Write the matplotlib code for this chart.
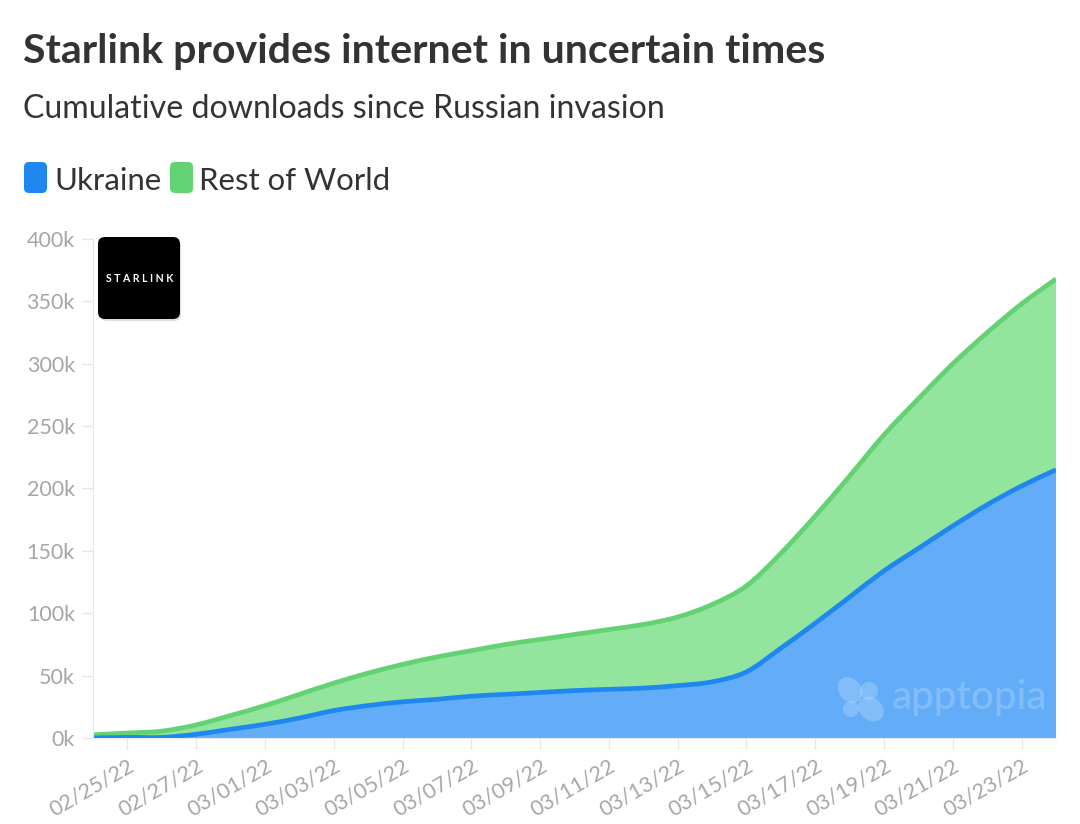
import pandas as pd
import numpy as np
import matplotlib
matplotlib.use("Agg")
import matplotlib.pyplot as plt
import matplotlib.dates as mdates
from matplotlib.patches import FancyBboxPatch, Circle, PathPatch, Ellipse
from matplotlib.path import Path

plt.rcParams['font.family'] = ['Lato', 'DejaVu Sans']

dates = pd.date_range("2022-02-24", "2022-03-24", freq="D")
ukraine = [0, 0.5, 0.5, 3, 7, 11, 16, 22, 26, 29, 31, 33.5, 35, 36.5, 38, 39, 40, 42, 45, 53,
           72, 92, 113, 134, 152, 170, 187, 202, 215]
rest_of_world = [2.5, 3.5, 5, 7.5, 11, 15, 19, 22, 26, 30, 34, 36.5, 40, 42.5, 45, 48, 51, 55, 62, 69,
                 76, 86, 97, 109, 120, 130, 138, 146, 153]
y_ticks = [0, 50, 100, 150, 200, 250, 300, 350, 400]
y_labels = ['0k', '50k', '100k', '150k', '200k', '250k', '300k', '350k', '400k']
x_ticks = pd.date_range("2022-02-25", "2022-03-23", freq="2D")

W, H = 1080, 824
BLUE, GREEN = '#1f88f0', '#62d273'
BLUE_FILL, GREEN_FILL = '#63adf8', '#93e49c'
GREY = '#a6a6a6'
DARK = '#333333'


def curve_segments(x, y):
    # bezier control points so the line runs through each daily value smoothly
    x, y = np.asarray(x, float), np.asarray(y, float)
    slope = np.gradient(y, x)
    h = (x[1] - x[0]) / 3
    verts, codes = [], []
    for i in range(len(x) - 1):
        verts += [(x[i] + h, y[i] + slope[i] * h), (x[i + 1] - h, y[i + 1] - slope[i + 1] * h),
                  (x[i + 1], y[i + 1])]
        codes += [Path.CURVE4] * 3
    return verts, codes


def line_path(x, y):
    verts, codes = curve_segments(x, y)
    return Path([(x[0], y[0])] + verts, [Path.MOVETO] + codes)


def band_path(x, low, high):
    top_v, top_c = curve_segments(x, high)
    low_v, low_c = curve_segments(x[::-1], low[::-1])
    verts = [(x[0], high[0])] + top_v + [(x[-1], low[-1])] + low_v + [(x[0], high[0])]
    codes = [Path.MOVETO] + top_c + [Path.LINETO] + low_c + [Path.CLOSEPOLY]
    return Path(verts, codes)


fig = plt.figure(figsize=(W / 100, H / 100), dpi=100, facecolor='white')
ax = fig.add_axes([93 / W, 1 - 738 / H, (1056 - 93) / W, (738 - 239) / H])

xs = mdates.date2num(dates)
base = np.zeros(len(xs))
low = np.array(ukraine, float)
total = low + np.array(rest_of_world, float)
ax.add_patch(PathPatch(band_path(xs, base, low), fc=BLUE_FILL, ec='none'))
ax.add_patch(PathPatch(band_path(xs, low, total), fc=GREEN_FILL, ec='none'))
ax.add_patch(PathPatch(line_path(xs, total), fc='none', ec=GREEN, lw=3.4))
ax.add_patch(PathPatch(line_path(xs, low), fc='none', ec=BLUE, lw=3.4))

ax.xaxis_date()
ax.set_xlim(xs[0], xs[-1])
ax.set_ylim(0, 400)
ax.set_yticks(y_ticks)
ax.set_yticklabels(y_labels)
ax.set_xticks(mdates.date2num(x_ticks))
ax.set_xticklabels([d.strftime('%m/%d/%y') for d in x_ticks], rotation=30, ha='right',
                   rotation_mode='anchor')
ax.tick_params(axis='y', length=8, width=1, color='#e6e6e6', labelcolor=GREY, labelsize=15.5, pad=5)
ax.tick_params(axis='x', length=8, width=1, color='#e6e6e6', labelcolor=GREY, labelsize=15.5, pad=5)
for side in ['top', 'right']:
    ax.spines[side].set_visible(False)
for side in ['left', 'bottom']:
    ax.spines[side].set_color('#e6e6e6')

# overlay in pixel coordinates for the header, legend, logo and watermark
ov = fig.add_axes([0, 0, 1, 1], facecolor='none')
ov.set_xlim(0, W)
ov.set_ylim(H, 0)
ov.axis('off')

ov.text(23, 51, 'Starlink provides internet in uncertain times', fontsize=29.6,
        fontweight='bold', color=DARK, va='center')
ov.text(23, 109, 'Cumulative downloads since Russian invasion', fontsize=23.1, color=DARK, va='center')

for x, color, label, tx in [(24, BLUE, 'Ukraine', 54), (170, GREEN, 'Rest of World', 199)]:
    ov.add_patch(FancyBboxPatch((x + 5, 167), 13, 21, boxstyle='round,pad=5,rounding_size=5',
                                fc=color, ec='none'))
    ov.text(tx, 181, label, fontsize=22.4, color=DARK, va='center')

# app logo
ov.add_patch(FancyBboxPatch((100, 240), 81, 81, boxstyle='round,pad=0,rounding_size=7',
                            fc='#d0d0d0', ec='none', alpha=0.7))
ov.add_patch(FancyBboxPatch((104, 243), 70, 70, boxstyle='round,pad=6,rounding_size=7',
                            fc='black', ec='none'))
ov.text(139.5, 278, 'S T A R L I N K', color='white', fontsize=7.6, fontweight='bold',
        ha='center', va='center')

# watermark
ov.add_patch(Ellipse((850, 690), 22, 28, angle=-40, fc='white', ec='none', alpha=0.2))
ov.add_patch(Circle((869, 691), 9, fc='white', ec='none', alpha=0.2))
ov.add_patch(Circle((851, 709), 8, fc='white', ec='none', alpha=0.2))
ov.add_patch(Ellipse((871, 709), 28, 22, angle=40, fc='white', ec='none', alpha=0.2))
ov.text(892, 698, 'apptopia', color='white', alpha=0.2, fontsize=29, va='center', fontweight='medium')

fig.savefig('out.png', dpi=100)
